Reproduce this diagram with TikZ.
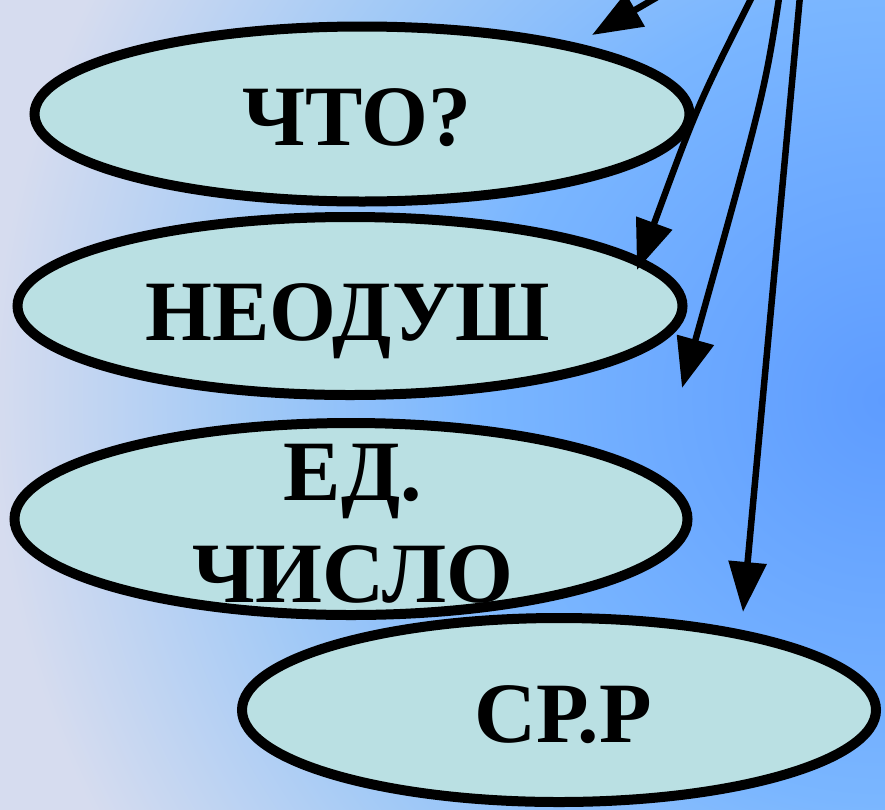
\documentclass[tikz,border=0pt]{standalone}
\usepackage{fontspec}
\setmainfont{Liberation Serif}
\usetikzlibrary{shapes.geometric,arrows.meta}
\definecolor{ovalfill}{HTML}{BAE0E3}
\definecolor{bgA}{HTML}{5E9CFF}
\definecolor{bgB}{HTML}{7AB6FF}
\definecolor{bgC}{HTML}{A3CAF6}
\definecolor{bgD}{HTML}{D6DCEF}
\pgfdeclareradialshading{bgrad}{\pgfpoint{0bp}{0bp}}{color(0bp)=(bgA); color(400bp)=(bgB); color(640bp)=(bgC); color(890bp)=(bgD); color(1100bp)=(bgD)}
\tikzset{
  oval/.style={ellipse, draw=black, line width=10pt, fill=ovalfill, inner sep=0pt},
  lbl/.style={font=\fontsize{86}{102}\selectfont\bfseries, text=black, inner sep=0pt, align=center},
  pointer/.style={line width=6.5pt, draw=black, -{Triangle[length=50pt,width=37pt]}}
}
\begin{document}
\begin{tikzpicture}[x=1pt,y=-1pt]
\useasboundingbox (0,0) rectangle (885,809);
\begin{scope}
  \clip (0,0) rectangle (885,809);
  \node[inner sep=0pt] (bg) at (885,400) {\pgfuseshading{bgrad}};
\end{scope}
% ovals
\node[oval, minimum width=655pt, minimum height=175pt] (e1) at (362,114) {};
\node[oval, minimum width=665pt, minimum height=178pt] (e2) at (350,306) {};
\node[oval, minimum width=673pt, minimum height=192pt] (e3) at (351,519) {};
\node[oval, minimum width=634pt, minimum height=184pt] (e4) at (559,710) {};
% labels
\node[lbl, anchor=base] (t1) at (357,145) {ЧТО?};
\node[lbl, anchor=base] (t2) at (348,340) {НЕОДУШ};
\node[lbl, anchor=base] (t3) at (353,602) {ЕД.\\ЧИСЛО};
\node[lbl, anchor=base] (t4) at (563,742) {СР.Р};
% arrow ends
\coordinate (s1) at (690,-22);
\coordinate (s2) at (758,-15);
\coordinate (s3) at (781,-15);
\coordinate (s4) at (801,-15);
\coordinate (p1) at (592,35);
\coordinate (p2) at (637,270);
\coordinate (p3) at (682,388);
\coordinate (p4) at (743,612);
\draw[pointer] (s1) -- (p1);
\draw[pointer] (s2) .. controls (698,104) .. (p2);
\draw[pointer] (s3) .. controls (765,91) .. (p3);
\draw[pointer] (s4) -- (p4);
\end{tikzpicture}
\end{document}
